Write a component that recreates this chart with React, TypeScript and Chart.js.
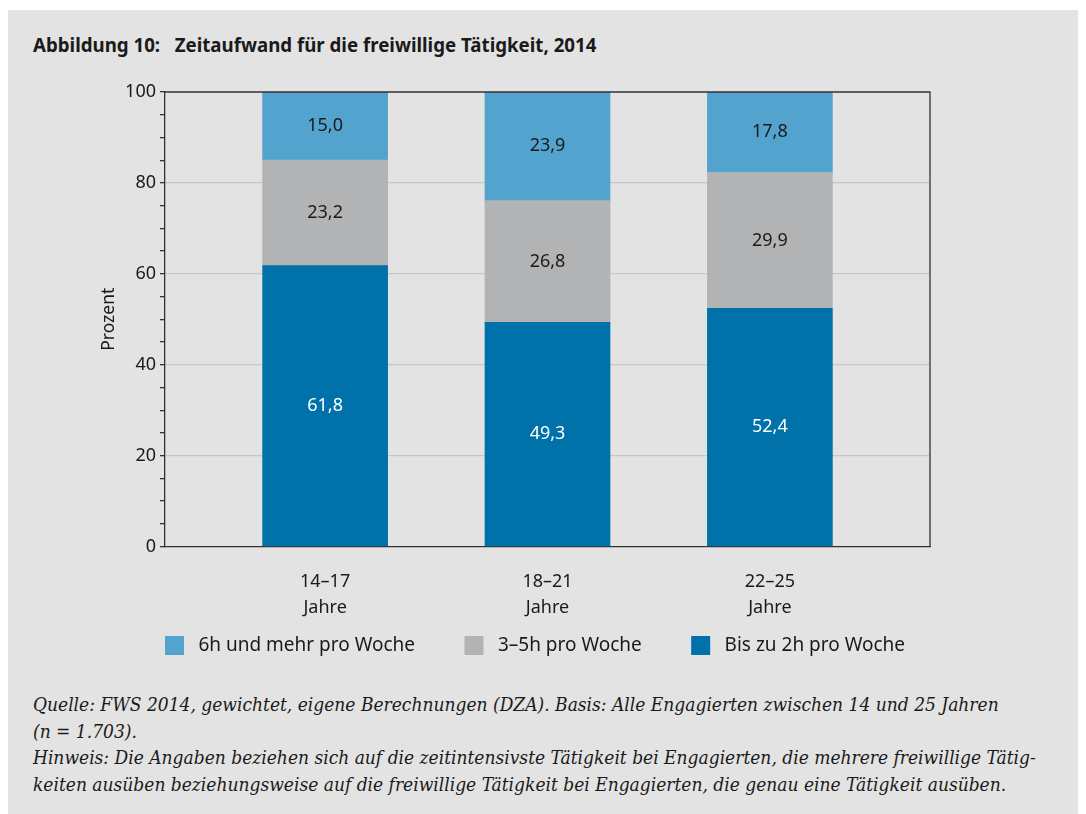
import React, { useEffect, useRef } from "react";
import { Chart, registerables } from "chart.js";

Chart.register(...registerables);

const categories: string[][] = [["14–17", "Jahre"], ["18–21", "Jahre"], ["22–25", "Jahre"]];
const seriesLabels = ["Bis zu 2h pro Woche", "3–5h pro Woche", "6h und mehr pro Woche"];
const upTo2h = [61.8, 49.3, 52.4];
const h3to5 = [23.2, 26.8, 29.9];
const h6plus = [15.0, 23.9, 17.8];
const yTicks = [0, 20, 40, 60, 80, 100];

const COLORS = ["#0071a9", "#b2b3b5", "#53a3cf"];
const LABEL_COLORS = ["#ffffff", "#1a1a1a", "#1a1a1a"];
const FONT = "'Noto Sans', 'Open Sans', sans-serif";

const fmt = (v: number) => v.toFixed(1).replace(".", ",");

const valueLabels = {
  id: "valueLabels",
  afterDatasetsDraw(chart: any) {
    const ctx = chart.ctx;
    ctx.save();
    ctx.font = `18px ${FONT}`;
    ctx.textAlign = "center";
    ctx.textBaseline = "middle";
    chart.data.datasets.forEach((ds: any, di: number) => {
      const meta = chart.getDatasetMeta(di);
      meta.data.forEach((bar: any, i: number) => {
        const v = ds.data[i].y;
        ctx.fillStyle = LABEL_COLORS[di];
        ctx.fillText(fmt(v), bar.x, (bar.y + bar.base) / 2);
      });
    });
    ctx.restore();
  },
};

const frame = {
  id: "frame",
  afterDatasetsDraw(chart: any) {
    const { left, right, top, bottom } = chart.chartArea;
    const ctx = chart.ctx;
    ctx.save();
    ctx.strokeStyle = "#333333";
    ctx.lineWidth = 1.3;
    ctx.beginPath();
    ctx.moveTo(left, top);
    ctx.lineTo(right, top);
    ctx.lineTo(right, bottom);
    ctx.stroke();
    ctx.restore();
  },
};

const GAP = "          ";

function BarChart() {
  const ref = useRef<HTMLCanvasElement>(null);
  useEffect(() => {
    if (!ref.current) return;
    const mk = (vals: number[]) => vals.map((y, x) => ({ x, y }));
    const chart = new Chart(ref.current, {
      type: "bar",
      data: {
        datasets: [
          { label: seriesLabels[0], data: mk(upTo2h), backgroundColor: COLORS[0] },
          { label: seriesLabels[1], data: mk(h3to5), backgroundColor: COLORS[1] },
          { label: seriesLabels[2], data: mk(h6plus), backgroundColor: COLORS[2] },
        ] as any,
      },
      options: {
        animation: false,
        responsive: false,
        devicePixelRatio: 1,
        layout: { padding: { left: 0, right: 130, top: 24, bottom: 0 } },
        datasets: { bar: { barThickness: 125 } } as any,
        scales: {
          x: {
            type: "linear",
            stacked: true,
            offset: false,
            min: -0.72,
            max: 2.72,
            grid: { display: false, drawTicks: false },
            border: { display: true, color: "#333333", width: 1.3 },
            afterBuildTicks: (s: any) => {
              s.ticks = categories.map((_, i) => ({ value: i }));
            },
            afterFit: (s: any) => {
              s.height = 89.5;
            },
            ticks: {
              padding: 22,
              color: "#1a1a1a",
              font: { family: FONT, size: 18, lineHeight: 1.45 },
              callback: (v: any) => categories[v as number] ?? "",
            },
          },
          y: {
            stacked: true,
            min: 0,
            max: 100,
            afterBuildTicks: (s: any) => {
              const t = [];
              for (let v = 0; v <= 100; v += 5) t.push({ value: v });
              s.ticks = t;
            },
            afterFit: (s: any) => {
              s.width = 157;
            },
            grid: {
              color: (c: any) => {
                const v = c.tick?.value;
                return v % 20 === 0 && v !== 0 && v !== 100 ? "#c6c7c7" : "rgba(0,0,0,0)";
              },
              tickColor: "#333333",
              tickLength: 5,
              lineWidth: 1.3,
            },
            border: { display: true, color: "#333333", width: 1.3 },
            ticks: {
              autoSkip: false,
              padding: 4,
              color: "#1a1a1a",
              font: { family: FONT, size: 18 },
              callback: (v: any) => (yTicks.includes(v) ? String(v) : ""),
            },
            title: {
              display: true,
              text: "Prozent",
              color: "#1a1a1a",
              font: { family: FONT, size: 17.5 },
              padding: { top: 91, bottom: 0 },
            },
          },
        },
        plugins: {
          legend: {
            position: "bottom",
            fullSize: false,
            align: "start",
            reverse: true,
            labels: {
              boxWidth: 19,
              boxHeight: 19,
              padding: 0,
              color: "#1a1a1a",
              font: { family: FONT, size: 19 },
              generateLabels: (chart: any) => {
                const items = Chart.defaults.plugins.legend.labels.generateLabels(chart);
                return items.map((l: any, i: number) => ({
                  ...l,
                  text: " " + l.text + (i > 0 ? GAP : ""),
                  lineWidth: 0,
                }));
              },
            },
          },
          tooltip: { enabled: false },
        },
      },
      plugins: [valueLabels, frame],
    } as any);
    return () => chart.destroy();
  }, []);
  return <canvas ref={ref} width={1052} height={597} style={{ display: "block" }} />;
}

export default function App() {
  return (
    <div style={{ position: "relative", width: 1078, height: 806 }}>
      <div
        style={{
          position: "absolute",
          left: 0,
          top: 2,
          width: 1078,
          height: 804,
          background: "#e2e3e2",
        }}
      />
      <div
        style={{
          position: "absolute",
          left: 25,
          top: 24,
          fontFamily: FONT,
          fontWeight: 700,
          fontSize: 18.7,
          color: "#1a1a1a",
          whiteSpace: "pre",
        }}
      >
        {"Abbildung 10:   Zeitaufwand für die freiwillige Tätigkeit, 2014"}
      </div>
      <div style={{ position: "absolute", left: 0, top: 60 }}>
        <BarChart />
      </div>
      <div
        style={{
          position: "absolute",
          left: 25,
          top: 683,
          fontFamily: "'DejaVu Serif', serif",
          fontStyle: "italic",
          fontStretch: "condensed",
          fontSize: 19,
          lineHeight: "26.5px",
          color: "#1a1a1a",
          whiteSpace: "pre",
        }}
      >
        {"Quelle: FWS 2014, gewichtet, eigene Berechnungen (DZA). Basis: Alle Engagierten zwischen 14 und 25 Jahren\n(n = 1.703).\nHinweis: Die Angaben beziehen sich auf die zeitintensivste Tätigkeit bei Engagierten, die mehrere freiwillige Tätig-\nkeiten ausüben beziehungsweise auf die freiwillige Tätigkeit bei Engagierten, die genau eine Tätigkeit ausüben."}
      </div>
    </div>
  );
}
